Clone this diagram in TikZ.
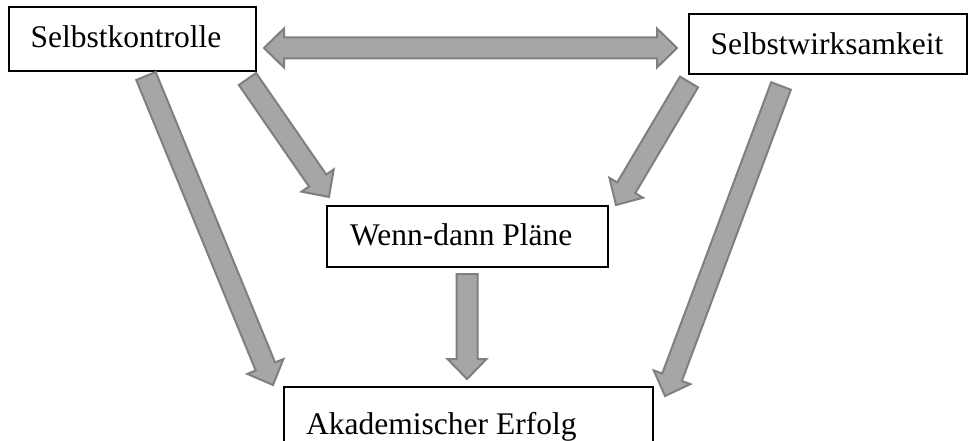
\documentclass[tikz,border=0pt]{standalone}
\usepackage{fontspec}
\setmainfont{Liberation Serif}
\usetikzlibrary{calc}

\definecolor{arrowfill}{HTML}{A6A6A6}
\definecolor{arrowline}{HTML}{7F7F7F}

% block arrow geometry (path values; the stroke adds half its width outside)
\newcommand\shafthw{10.5pt}
\newcommand\headhw{19.5pt}
\newcommand\headlen{20pt}

% single-headed block arrow from #1 (tail centre) to #2 (tip)
\newcommand\blockarrow[2]{%
  \coordinate (ba-c) at ($(#2)!\headlen!(#1)$);
  \draw[blockarrowstyle]
    ($(#1)!\shafthw!90:(#2)$) -- ($(ba-c)!\shafthw!90:(#2)$) --
    ($(ba-c)!\headhw!90:(#2)$) -- (#2) --
    ($(ba-c)!\headhw!-90:(#2)$) -- ($(ba-c)!\shafthw!-90:(#2)$) --
    ($(#1)!\shafthw!-90:(#2)$) -- cycle;}

% double-headed block arrow between the tips #1 and #2
\newcommand\doubleblockarrow[2]{%
  \coordinate (dba-a) at ($(#1)!\headlen!(#2)$);
  \coordinate (dba-b) at ($(#2)!\headlen!(#1)$);
  \draw[blockarrowstyle]
    (#1) -- ($(dba-a)!\headhw!90:(#2)$) -- ($(dba-a)!\shafthw!90:(#2)$) --
    ($(dba-b)!\shafthw!90:(#2)$) -- ($(dba-b)!\headhw!90:(#2)$) -- (#2) --
    ($(dba-b)!\headhw!-90:(#2)$) -- ($(dba-b)!\shafthw!-90:(#2)$) --
    ($(dba-a)!\shafthw!-90:(#2)$) -- ($(dba-a)!\headhw!-90:(#2)$) -- cycle;}

\begin{document}
\begin{tikzpicture}[x=1pt, y=-1pt,
  box/.style={draw=black, line width=1.2pt, fill=white, rectangle, inner sep=0pt},
  lbl/.style={font=\fontsize{31.5}{36}\selectfont, inner sep=0pt, anchor=base west},
  blockarrowstyle/.style={draw=arrowline, fill=arrowfill, line width=2pt, line join=miter}]

\useasboundingbox (0,0) rectangle (968,441);
\clip (0,0) rectangle (968,441);
\fill[white] (0,0) rectangle (968,441);

% boxes
\node[box, minimum width=247pt, minimum height=64pt] (sk) at (132.5,39) {};
\node[box, minimum width=278pt, minimum height=60pt] (sw) at (828,44) {};
\node[box, minimum width=281pt, minimum height=61pt] (wd) at (467.5,236.5) {};
\node[box, minimum width=369pt, minimum height=90pt] (ak) at (468.5,432) {};

% labels
\node[lbl] (sk-t) at (30.5,47.3) {Selbstkontrolle};
\node[lbl] (sw-t) at (710.5,55) {Selbstwirksamkeit};
\node[lbl] (wd-t) at (350,245.5) {Wenn-dann Pläne};
\node[lbl] (ak-t) at (306,434) {Akademischer Erfolg};

% arrow ends
\coordinate (d1) at (264,48);
\coordinate (d2) at (677,48);
\coordinate (a1s) at (146,76);   \coordinate (a1e) at (273,385);
\coordinate (a2s) at (247.5,79); \coordinate (a2e) at (329,197);
\coordinate (a3s) at (689,82);   \coordinate (a3e) at (616,205);
\coordinate (a4s) at (781,86);   \coordinate (a4e) at (665,396);
\coordinate (a5s) at (467,274);  \coordinate (a5e) at (467,379);

% connectors
\doubleblockarrow{d1}{d2}
\blockarrow{a1s}{a1e}
\blockarrow{a2s}{a2e}
\blockarrow{a3s}{a3e}
\blockarrow{a4s}{a4e}
\blockarrow{a5s}{a5e}
\end{tikzpicture}
\end{document}
